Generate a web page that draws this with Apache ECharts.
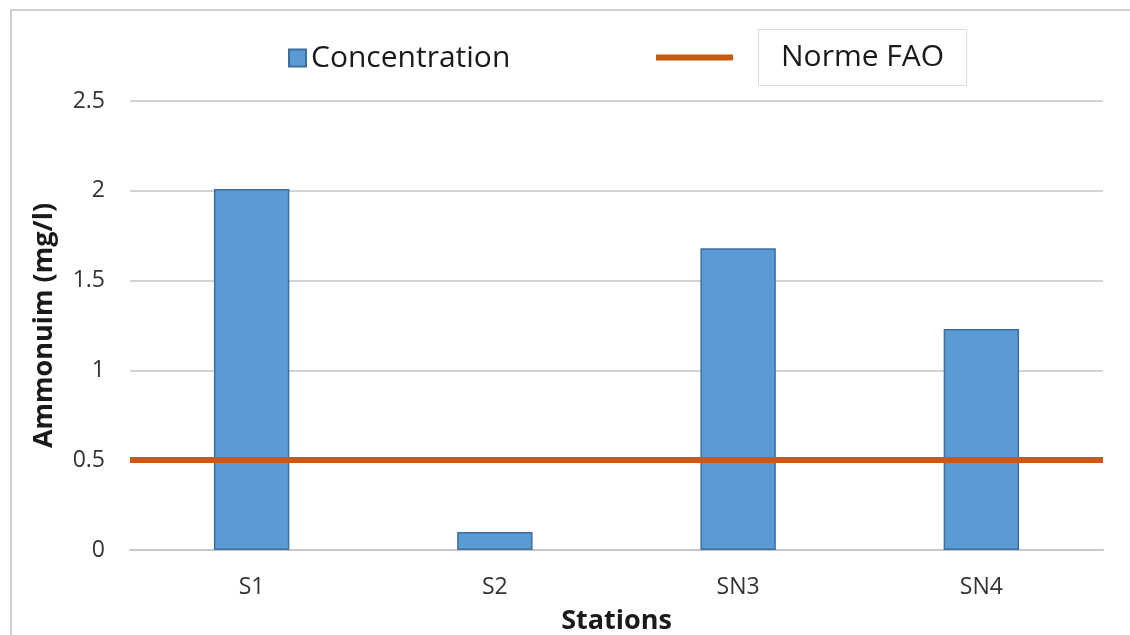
<!DOCTYPE html>
<html>
<head>
<meta charset="utf-8">
<script src="https://cdn.jsdelivr.net/npm/echarts@6/dist/echarts.min.js"></script>
<style>
  html, body { margin: 0; padding: 0; background: #fff; }
  #chart { width: 1130px; height: 635px; }
</style>
</head>
<body>
<div id="chart"></div>
<script>
// stations and ammonium values (mg/l)
var stations = ['S1', 'S2', 'SN3', 'SN4']
var concentration = [2.01, 0.1, 1.68, 1.23]
var normeFAO = 0.5
var yTicks = [0, 0.5, 1, 1.5, 2, 2.5]

var font = 'Open Sans'
var chart = echarts.init(document.getElementById('chart'))

var option = {
  backgroundColor: '#fff',
  animation: false,
  textStyle: { fontFamily: font },
  graphic: [
    {
      type: 'rect',
      shape: { x: 11, y: 10, width: 1140, height: 650 },
      style: { fill: 'none', stroke: '#d0d0d0', lineWidth: 2 },
      silent: true
    }
  ],
  legend: [
    {
      data: ['Concentration'],
      left: 283,
      top: 38,
      icon: 'rect',
      itemWidth: 17,
      itemHeight: 17,
      itemGap: 10,
      textStyle: { fontFamily: font, fontSize: 30, color: '#1a1a1a' }
    },
    {
      data: ['Norme FAO'],
      left: 651,
      top: 24,
      icon: 'rect',
      itemWidth: 77,
      itemHeight: 6,
      formatter: '{gap|}{box|{name}}',
      textStyle: {
        fontFamily: font,
        fontSize: 30,
        color: '#1a1a1a',
        rich: {
          gap: { width: 21 },
          box: {
            fontFamily: font,
            fontSize: 30,
            color: '#1a1a1a',
            height: 55,
            padding: [0, 22],
            backgroundColor: '#fff',
            borderColor: '#dcdcdc',
            borderWidth: 1
          }
        }
      }
    }
  ],
  grid: { left: 130, right: 27, top: 101, bottom: 85, outerBoundsMode: 'none' },
  xAxis: {
    type: 'category',
    data: stations,
    name: 'Stations',
    nameLocation: 'middle',
    nameGap: 58,
    nameTextStyle: { fontFamily: font, fontSize: 27, fontWeight: 'bold', color: '#1a1a1a' },
    axisLine: { lineStyle: { color: '#c8c8c8', width: 2 } },
    axisTick: { show: false },
    axisLabel: { fontSize: 23, color: '#333', margin: 26 }
  },
  yAxis: {
    type: 'value',
    min: yTicks[0],
    max: yTicks[yTicks.length - 1],
    interval: 0.5,
    name: 'Ammonuim (mg/l)',
    nameLocation: 'middle',
    nameGap: 72,
    nameTextStyle: { fontFamily: font, fontSize: 27, fontWeight: 'bold', color: '#1a1a1a' },
    axisLine: { show: false },
    axisTick: { show: false },
    axisLabel: { fontSize: 23, color: '#333', margin: 25 },
    splitLine: { lineStyle: { color: '#d4d4d4', width: 2 } }
  },
  series: [
    {
      name: 'Concentration',
      type: 'bar',
      data: concentration,
      barWidth: '31%',
      itemStyle: { color: '#5b9bd5', borderColor: '#3d6f9e', borderWidth: 1.5 }
    },
    {
      name: 'Norme FAO',
      type: 'line',
      data: [],
      itemStyle: { color: '#c55a11' },
      lineStyle: { color: '#c55a11', width: 5 },
      markLine: {
        symbol: 'none',
        silent: true,
        label: { show: false },
        lineStyle: { color: '#c9581a', width: 6, type: 'solid' },
        data: [{ yAxis: normeFAO }]
      }
    }
  ]
}

chart.setOption(option)
</script>
</body>
</html>
